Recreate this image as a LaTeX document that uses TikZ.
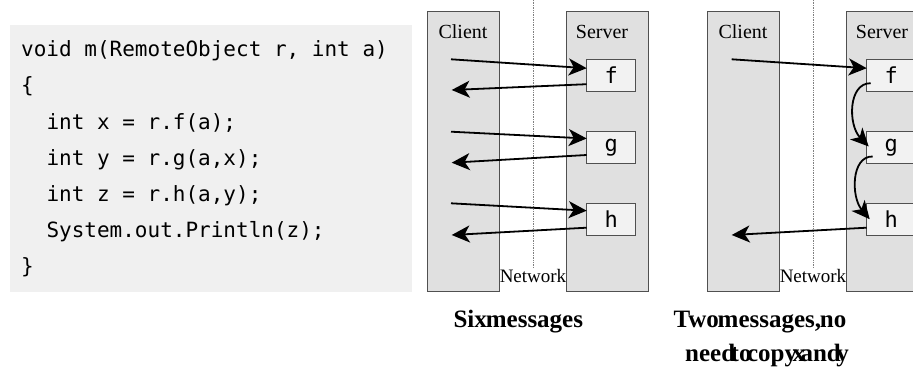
\documentclass[tikz,border=0pt]{standalone}
\usepackage{fontspec}
\setmainfont{Liberation Serif}
\newfontfamily\codefont{DejaVu Sans Mono}
\usetikzlibrary{arrows.meta,calc}
\definecolor{codebg}{HTML}{F0F0F0}
\definecolor{panelbg}{HTML}{E0E0E0}
\definecolor{fbg}{HTML}{F2F2F2}
\definecolor{edgegray}{HTML}{505050}
\tikzset{
  codebox/.style={fill=codebg, draw=none, minimum width=402pt, minimum height=267pt, inner sep=0pt, outer sep=0pt},
  codeline/.style={anchor=base west, inner sep=0pt, font=\codefont\fontsize{21}{25}\selectfont},
  panel/.style={fill=panelbg, draw=edgegray, line width=1.2pt, minimum height=280pt, inner sep=0pt, outer sep=0pt},
  fnbox/.style={fill=fbg, draw=edgegray, line width=1pt, minimum width=49pt, minimum height=31.7pt, inner sep=0pt, outer sep=0pt, font=\codefont\fontsize{22}{26}\selectfont},
  plabel/.style={anchor=base, inner sep=0pt, font=\fontsize{20}{24}\selectfont},
  netlabel/.style={anchor=base, inner sep=0pt, font=\fontsize{19}{22}\selectfont},
  netline/.style={gray, densely dotted, line width=0.7pt},
  msg/.style={line width=1.8pt, -{Stealth[length=18pt,width=17pt,inset=5pt]}},
  capt/.style={anchor=base west, inner sep=0pt, font=\bfseries\fontsize{25}{30}\selectfont}
}
\begin{document}
\begin{tikzpicture}[x=1pt,y=-1pt]
\useasboundingbox (0,0) rectangle (913,369);
\clip (0,0) rectangle (913,369);
% code
\node[codebox] (code) at (211,158.5) {};
\node[codeline] (l1) at (21,56.7) {void m(RemoteObject r, int a)};
\node[codeline] (l2) at (21,92.8) {\{};
\node[codeline] (l3) at (46.3,129) {int x = r.f(a);};
\node[codeline] (l4) at (46.3,165.1) {int y = r.g(a,x);};
\node[codeline] (l5) at (46.3,201.2) {int z = r.h(a,y);};
\node[codeline] (l6) at (46.3,237.4) {System.out.Println(z);};
\node[codeline] (l7) at (21,273.5) {\}};
% left diagram
\node[panel, minimum width=72pt] (cl1) at (463.3,151.7) {};
\node[panel, minimum width=81.6pt] (sv1) at (607.5,151.7) {};
\coordinate (n1top) at (533.3,0);
\coordinate (n1bot) at (533.3,267);
\draw[netline] (n1top) -- (n1bot);
\node[plabel] (cl1t) at (463,38.3) {Client};
\node[plabel] (sv1t) at (602,38.3) {Server};
\node[netlabel] (net1) at (533,282) {Network};
\node[fnbox] (f1) at (611.2,75.2) {f};
\node[fnbox] (g1) at (611.2,147.5) {g};
\node[fnbox] (h1) at (611.2,219.2) {h};
\coordinate (c1) at (451,59.3);
\coordinate (r1) at (451.7,90);
\coordinate (c2) at (451,131.7);
\coordinate (r2) at (451.7,162.7);
\coordinate (c3) at (451,203.3);
\coordinate (r3) at (451.7,235);
\draw[msg] (c1) -- ($(f1.west)+(0,-7)$);
\draw[msg] ($(f1.west)+(0,9)$) -- (r1);
\draw[msg] (c2) -- ($(g1.west)+(0,-9)$);
\draw[msg] ($(g1.west)+(0,7.5)$) -- (r2);
\draw[msg] (c3) -- ($(h1.west)+(0,-8.5)$);
\draw[msg] ($(h1.west)+(0,8.5)$) -- (r3);
% right diagram
\node[panel, minimum width=72pt] (cl2) at (743.3,151.7) {};
\node[panel, minimum width=81.6pt] (sv2) at (887.5,151.7) {};
\coordinate (n2top) at (813.3,0);
\coordinate (n2bot) at (813.3,267);
\draw[netline] (n2top) -- (n2bot);
\node[plabel] (cl2t) at (743,38.3) {Client};
\node[plabel] (sv2t) at (882,38.3) {Server};
\node[netlabel] (net2) at (813,282) {Network};
\node[fnbox] (f2) at (891.2,75.2) {f};
\node[fnbox] (g2) at (891.2,147.5) {g};
\node[fnbox] (h2) at (891.2,219.2) {h};
\coordinate (c4) at (731.7,59.3);
\coordinate (r4) at (731.7,235);
\draw[msg] (c4) -- ($(f2.west)+(0,-7)$);
\draw[msg] ($(h2.west)+(0,8.5)$) -- (r4);
\draw[msg] ($(f2.west)+(4,8)$) .. controls (848,83) and (848,125) .. ($(g2.west)+(2,-1)$);
\draw[msg] ($(g2.west)+(6,9)$) .. controls (851,156) and (851,197) .. ($(h2.west)+(3,0)$);
% captions
\node[capt] (cap1) at (453.3,327.7) {\spaceskip=-1pt\relax Six messages};
\node[capt] (cap2) at (673.3,327.7) {\spaceskip=-1.2pt\relax Two messages, no};
\node[capt] (cap3) at (685,361.7) {\spaceskip=-4.5pt\relax need to copy x and y};
\end{tikzpicture}
\end{document}
